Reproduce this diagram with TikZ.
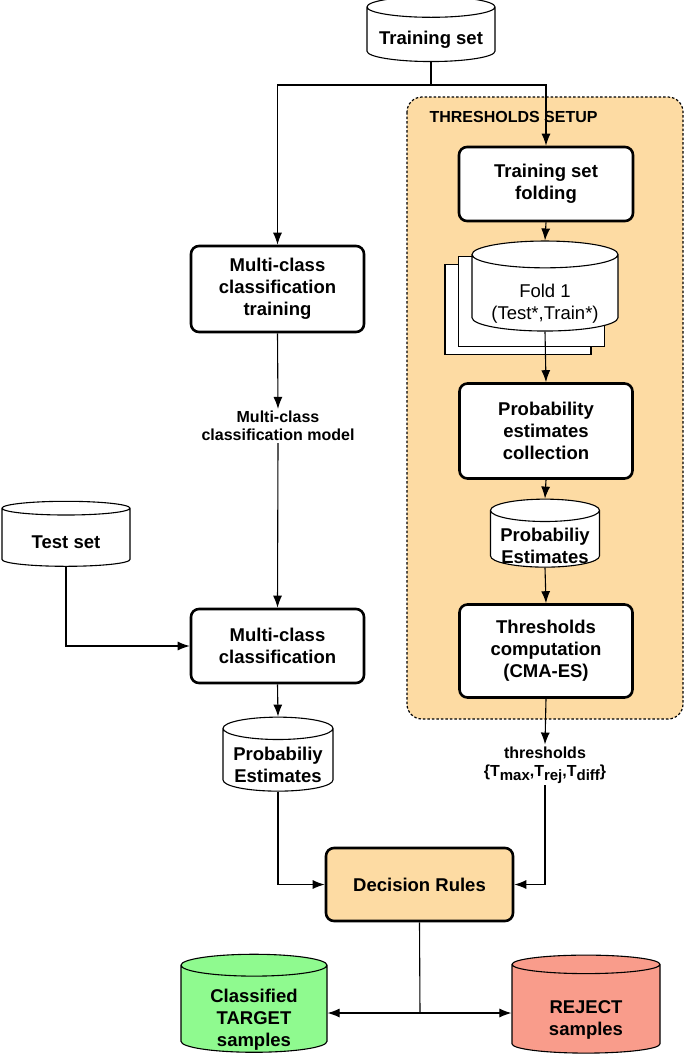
\documentclass[tikz,border=0pt]{standalone}
\usepackage{fontspec}
\setmainfont{Liberation Sans}
\usepackage{tikz}
\usetikzlibrary{shapes.geometric, arrows.meta}
\definecolor{setupbg}{HTML}{FDDBA3}
\definecolor{targetbg}{HTML}{8FFA8F}
\definecolor{rejectbg}{HTML}{F99C8B}
\newcommand{\thrsub}[1]{\raisebox{-0.45ex}{\fontsize{15}{15}\selectfont #1}}
% text of a cylinder, pushed down into its body (#1 = how far)
\newcommand{\dbtext}[2]{\raisebox{-#1}[0pt][0pt]{\begin{tabular}{@{}c@{}}#2\end{tabular}}}

\begin{document}
\begin{tikzpicture}[x=1pt, y=-1pt,
    box/.style={draw, line width=2.6pt, rounded corners=8pt, fill=white, align=center,
      font=\fontsize{18.5}{22}\selectfont\bfseries, inner sep=0pt},
    dbase/.style={draw, line width=1.1pt, cylinder, shape border rotate=90, aspect=0.25,
      fill=white, font=\fontsize{18.5}{22}\selectfont\bfseries, inner sep=0pt},
    lbl/.style={align=center, font=\fontsize{16}{18}\selectfont\bfseries, fill=white, inner sep=2pt},
    arr/.style={line width=1.1pt, ->, >={Latex[length=12pt,width=9pt]}}]
    \useasboundingbox (0,0) rectangle (685,1061);

    % 1. Thresholds setup area (background)
    \filldraw[fill=setupbg, line width=1.2pt, dash pattern=on 2.5pt off 2pt, rounded corners=15pt]
        (407,97) rectangle (683,719);
    \node[anchor=west, font=\fontsize{16}{18}\selectfont\bfseries] (setup) at (426,117) {THRESHOLDS SETUP};

    % --- Left column ---
    \node[dbase, aspect=0.2, minimum width=128pt, minimum height=65pt] (trainset) at (431,34.5) {\dbtext{10pt}{Training set}};
    \node[box, minimum width=173pt, minimum height=86pt] (mctrain) at (277.5,289) {Multi-class\\classification\\training};
    \node[lbl] (model) at (278,426) {Multi-class\\classification model};
    \node[dbase, aspect=0.2, minimum width=128pt, minimum height=65pt] (testset) at (66,537.5) {\dbtext{11pt}{Test set}};
    \node[box, minimum width=173pt, minimum height=74pt] (mcclass) at (277.5,646) {Multi-class\\classification};
    \node[dbase, minimum width=110pt, minimum height=74pt] (probL) at (278,760) {\dbtext{11pt}{Probabiliy\\Estimates}};

    % --- Right column ---
    \node[box, minimum width=174pt, minimum height=74pt] (folding) at (546,184) {Training set\\folding};
    \node[dbase, minimum width=146pt, minimum height=90pt] (fold3) at (518,310) {};
    \node[dbase, minimum width=146pt, minimum height=90pt] (fold2) at (531.5,301.5) {};
    \node[dbase, minimum width=146pt, minimum height=90pt, font=\fontsize{18.5}{22}\selectfont] (fold1) at (545,293) {\dbtext{15pt}{Fold 1\\(Test*,Train*)}};
    \node[box, minimum width=173pt, minimum height=95pt] (pecoll) at (546,431) {Probability\\estimates\\collection};
    \node[dbase, minimum width=109pt, minimum height=68pt] (probR) at (545,539) {\dbtext{13.5pt}{Probabiliy\\Estimates}};
    \node[box, minimum width=173pt, minimum height=93pt] (thrcomp) at (546,651) {Thresholds\\computation\\(CMA-ES)};
    \node[lbl, fill=none] (thr) at (545,765) {thresholds\\\{T\thrsub{max},T\thrsub{rej},T\thrsub{diff}\}};

    % --- Decision and outputs ---
    \node[box, fill=setupbg, minimum width=187pt, minimum height=73pt] (decision) at (419.5,884.5) {Decision Rules};
    \node[dbase, fill=targetbg, minimum width=146pt, minimum height=98pt] (target) at (254,1009) {\dbtext{15.5pt}{Classified\\TARGET\\samples}};
    \node[dbase, fill=rejectbg, minimum width=148pt, minimum height=98pt] (reject) at (586,1009) {\dbtext{15.5pt}{REJECT\\samples}};

    % --- Connectors ---
    \coordinate (split) at (431,85);
    \coordinate (fork) at (420,1013);
    \draw[line width=1.1pt] (trainset.south) -- (split);
    \draw[arr] (split) -| (mctrain.north);
    \draw[arr] (split) -| (folding.north);
    \draw[arr] (mctrain.south) -- (model.north);
    \draw[arr] (model.south) -- (mcclass.north);
    \draw[arr] (testset.south) |- (mcclass.west);
    \draw[arr] (mcclass.south) -- (probL.north);
    \draw[arr] (probL.south) |- (decision.west);

    \draw[arr] (folding.south) -- (fold1.north);
    \draw[arr] (fold1.south) -- (pecoll.north);
    \draw[arr] (pecoll.south) -- (probR.north);
    \draw[arr] (probR.south) -- (thrcomp.north);
    \draw[arr] (thrcomp.south) -- (thr.north);
    \draw[arr] (thr.south) |- (decision.east);

    \draw[line width=1.1pt] (decision.south) -- (fork);
    \draw[arr] (fork) -- (fork -| target.east);
    \draw[arr] (fork) -- (fork -| reject.west);

\end{tikzpicture}
\end{document}
